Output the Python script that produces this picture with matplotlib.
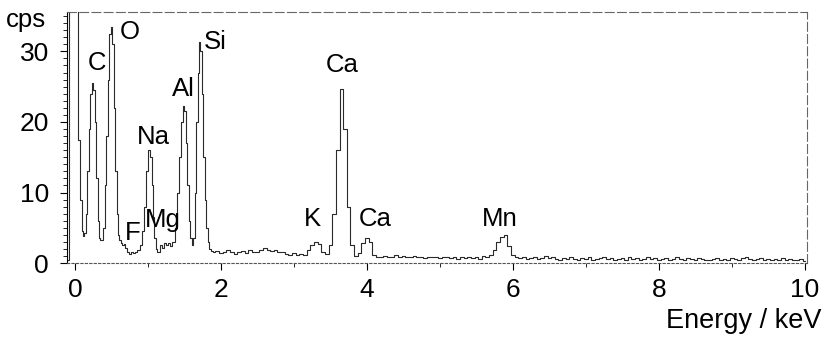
import numpy as np
import matplotlib
matplotlib.use("Agg")
from matplotlib import pyplot as plt
from matplotlib.ticker import MultipleLocator, FixedLocator

plt.rcParams['font.family'] = ['Liberation Sans', 'DejaVu Sans']

# low energy part of the spectrum (keV / cps)
energy_low = [-0.12, -0.09, -0.07, -0.03, 0.00, 0.03, 0.055, 0.08, 0.10, 0.12,
              0.14, 0.16, 0.18, 0.20, 0.22, 0.24, 0.26, 0.28, 0.30, 0.32,
              0.34, 0.36, 0.38, 0.40, 0.42, 0.44, 0.46, 0.48, 0.50, 0.52,
              0.54, 0.56, 0.58, 0.60, 0.62, 0.64, 0.66, 0.68, 0.70, 0.72,
              0.75, 0.78, 0.81, 0.84, 0.87, 0.90, 0.93, 0.96, 0.99, 1.02,
              1.04, 1.06, 1.08, 1.10, 1.12, 1.14, 1.16, 1.18, 1.20, 1.23,
              1.26, 1.29, 1.32, 1.35, 1.38, 1.41, 1.44, 1.47, 1.49, 1.51,
              1.53, 1.55, 1.57, 1.59, 1.61, 1.63, 1.65, 1.67, 1.69, 1.71,
              1.73, 1.75, 1.77, 1.79, 1.81, 1.83, 1.85, 1.88]
cps_low = [0.3, 0.5, 40, 40, 40, 40, 17.5, 9, 4.5, 3.8,
           4.2, 7, 13, 19, 24, 25.5, 24.5, 20, 12, 6,
           3.5, 3.2, 3.3, 5, 11, 18, 26, 32.5, 33.4, 31,
           22, 13, 7, 4, 3.2, 2.8, 2.6, 2.7, 2.2, 1.6,
           1.3, 1.5, 1.4, 1.6, 1.9, 2.6, 4.5, 8, 13, 16,
           15, 11, 6.5, 3.5, 2.0, 1.5, 1.6, 2.6, 2.2, 2.8,
           2.6, 2.9, 2.4, 3.0, 5, 10, 15, 20, 22.2, 21.5,
           17, 11, 6, 3.5, 2.5, 3.5, 10, 20, 27, 31.3,
           30, 24, 15, 9, 5, 3, 2, 1.7]

# higher energies, channels every 0.05 keV from 1.90 keV
cps_high = [1.5, 1.7, 1.4, 1.6, 1.8, 1.5, 1.3, 1.6, 1.7, 1.4,
            1.9, 1.6, 1.5, 1.9, 2.1, 1.8, 1.7, 1.9, 1.5, 1.6,
            1.3, 1.2, 1.4, 1.1, 1.3, 1.2, 1.8, 2.6, 3.0, 2.7,
            1.6, 1.3, 2.5, 7, 16, 24.7, 19, 8, 2.5, 1.0,
            1.4, 2.8, 3.6, 3.0, 1.2, 0.9, 0.8, 1.0, 0.9, 0.8,
            1.1, 0.9, 1.0, 0.8, 0.9, 1.0, 0.8, 0.9, 0.7, 0.9,
            0.8, 0.9, 0.7, 0.8, 0.9, 0.7, 0.8, 0.6, 0.8, 0.7,
            0.9, 0.7, 0.8, 0.6, 1.0, 0.9, 1.2, 1.8, 3.0, 3.7,
            4.0, 2.4, 1.1, 0.8, 0.7, 0.9, 0.6, 0.7, 0.8, 0.6,
            0.7, 1.0, 0.7, 0.8, 0.6, 0.5, 0.7, 0.6, 0.8, 0.6,
            0.5, 0.7, 0.6, 0.8, 0.5, 0.6, 0.7, 0.9, 0.6, 0.7,
            0.5, 0.6, 0.7, 0.5, 0.8, 0.6, 0.7, 0.5, 0.6, 0.8,
            0.6, 0.7, 0.5, 0.6, 0.7, 0.5, 0.6, 0.8, 0.6, 0.5,
            0.7, 0.6, 0.5, 0.7, 0.6, 0.5, 0.4, 0.6, 0.7, 0.5,
            0.6, 0.5, 0.7, 0.6, 0.5, 0.7, 0.8, 0.6, 0.5, 0.6,
            0.7, 0.5, 0.6, 0.4, 0.6, 0.5, 0.7, 0.5, 0.6, 0.4,
            0.5, 0.6, 0.3]
energy_high = np.round(1.90 + 0.05 * np.arange(len(cps_high)), 2)

energy = np.concatenate([energy_low, energy_high])
cps = np.concatenate([cps_low, cps_high])

# element labels
elements = ['C', 'O', 'F', 'Na', 'Mg', 'Al', 'Si', 'K', 'Ca', 'Ca', 'Mn']
label_x = [0.30, 0.75, 0.79, 1.08, 1.21, 1.48, 1.92, 3.26, 3.66, 4.11, 5.82]
label_y = [28.3, 32.7, 4.2, 17.8, 6.1, 24.7, 31.3, 6.3, 28.0, 6.3, 6.3]

fig = plt.figure(figsize=(8.26, 3.39), dpi=100)
ax = fig.add_axes([0.081, 0.224, 0.896, 0.741])

ax.plot(energy, cps, color='#2a2a2a', lw=0.8, drawstyle='steps-mid')

for name, x, y in zip(elements, label_x, label_y):
    ax.text(x, y, name, fontsize=18.5, ha='center', va='center')

ax.set_xlim(-0.11, 10.03)
ax.set_ylim(0, 35.6)

ax.xaxis.set_major_locator(FixedLocator([0, 2, 4, 6, 8, 10]))
ax.xaxis.set_minor_locator(MultipleLocator(1))
ax.yaxis.set_major_locator(FixedLocator([0, 10, 20, 30]))
ax.yaxis.set_minor_locator(MultipleLocator(1))
ax.tick_params(axis='both', which='major', labelsize=19, length=5, width=0.8)
ax.tick_params(axis='x', which='major', pad=6)
ax.tick_params(axis='y', which='major', pad=8)
ax.tick_params(axis='both', which='minor', length=3, width=0.6)

for s in ['top', 'right']:
    ax.spines[s].set_linestyle((0, (8, 3)))
    ax.spines[s].set_color('#666666')
    ax.spines[s].set_linewidth(0.8)
ax.spines['bottom'].set_linestyle((0, (2, 2)))
ax.spines['bottom'].set_color('#555555')
ax.spines['bottom'].set_linewidth(0.8)
ax.spines['left'].set_linewidth(0.8)

fig.text(46 / 826, 1 - 20 / 339, 'cps', fontsize=18.5, ha='right', va='center')
fig.text(822 / 826, 1 - 328 / 339, 'Energy / keV', fontsize=19.5, ha='right', va='baseline')

fig.savefig('out.png', dpi=100)
